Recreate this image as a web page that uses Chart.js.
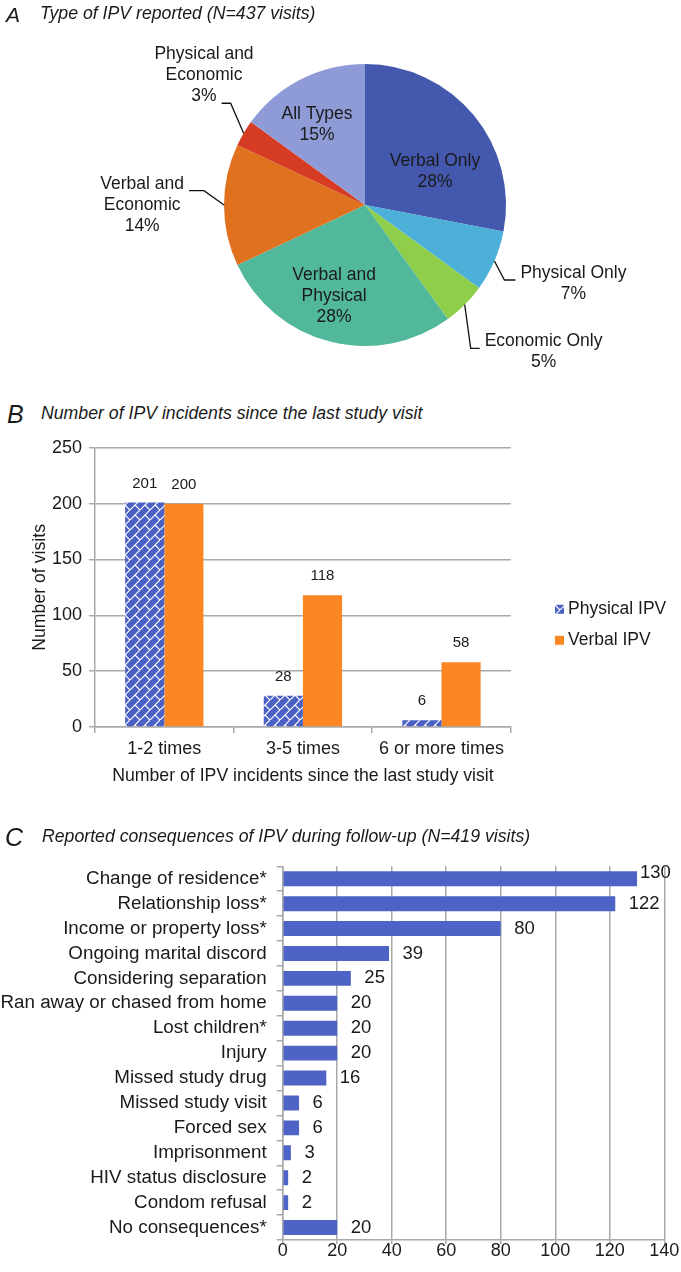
<!DOCTYPE html>
<html><head><meta charset="utf-8">
<script src="https://cdn.jsdelivr.net/npm/chart.js@4.4.0/dist/chart.umd.min.js"></script>
<style>
html,body{margin:0;padding:0;background:#fff;}
#fig{position:relative;width:681px;height:1272px;overflow:hidden;background:#fff;font-family:"Liberation Sans",Arial,Helvetica,sans-serif;color:#1a1a1a;}
.cv{position:absolute;left:0;width:681px;}
.lt{position:absolute;font-style:italic;line-height:1;white-space:nowrap;z-index:2;}
</style></head><body>
<div id="fig">
  <div class="cv" style="top:0;height:380px"><canvas id="cA"></canvas></div>
  <div class="cv" style="top:430px;height:360px"><canvas id="cB"></canvas></div>
  <div class="cv" style="top:845px;height:427px"><canvas id="cC"></canvas></div>

  <div class="lt" style="left:6px;top:4px;font-size:21px">A</div>
  <div class="lt" style="left:40px;top:5px;font-size:17.7px">Type of IPV reported (N=437 visits)</div>
  <div class="lt" style="left:7px;top:402px;font-size:25px">B</div>
  <div class="lt" style="left:41px;top:405px;font-size:17.7px">Number of IPV incidents since the last study visit</div>
  <div class="lt" style="left:5px;top:825px;font-size:25px">C</div>
  <div class="lt" style="left:42px;top:828px;font-size:17.7px">Reported consequences of IPV during follow-up (N=419 visits)</div>
</div>
<script>
// ---------- DATA ----------
const pieCategories = [['Verbal Only'], ['Physical Only'], ['Economic Only'], ['Verbal and', 'Physical'], ['Verbal and', 'Economic'], ['Physical and', 'Economic'], ['All Types']];
const piePercents = [28, 7, 5, 28, 14, 3, 15];

const incidentCategories = ['1-2 times', '3-5 times', '6 or more times'];
const physicalIPV = [201, 28, 6];
const verbalIPV = [200, 118, 58];
const incidentTicks = [0, 50, 100, 150, 200, 250];

const consequenceCategories = ['Change of residence*', 'Relationship loss*', 'Income or property loss*', 'Ongoing marital discord', 'Considering separation', 'Ran away or chased from home', 'Lost children*', 'Injury', 'Missed study drug', 'Missed study visit', 'Forced sex', 'Imprisonment', 'HIV status disclosure', 'Condom refusal', 'No consequences*'];
const consequenceCounts = [130, 122, 80, 39, 25, 20, 20, 20, 16, 6, 6, 3, 2, 2, 20];
const consequenceTicks = [0, 20, 40, 60, 80, 100, 120, 140];

// ---------- STYLE ----------
const FAMILY = '"Liberation Sans", Arial, Helvetica, sans-serif';
const TXT = '#1a1a1a';
const GRAY = '#a9a9a9';
Chart.defaults.font.family = FAMILY;
Chart.defaults.color = TXT;

const pieColors = ['#4459ae', '#4cb0d8', '#8fce4a', '#52b89c', '#e0711f', '#d63c24', '#8f9bd6'];

function makeHatch() {
  const c = document.createElement('canvas');
  c.width = 10; c.height = 10;
  const g = c.getContext('2d');
  g.fillStyle = '#4a60c5'; g.fillRect(0, 0, 10, 10);
  g.strokeStyle = '#ffffff'; g.lineWidth = 1.2;
  g.beginPath();
  g.moveTo(-1, 11); g.lineTo(11, -1);
  g.moveTo(5, 5); g.lineTo(10, 10);
  g.stroke();
  return g.createPattern(c, 'repeat');
}
const hatch = makeHatch();

// ---------- PLUGINS ----------
const pieLabelPlugin = {
  id: 'pieLabels',
  afterDatasetsDraw(chart, args, opts) {
    const ctx = chart.ctx;
    const meta = chart.getDatasetMeta(0);
    ctx.save();
    ctx.font = opts.font;
    ctx.fillStyle = opts.color;
    ctx.textBaseline = 'middle';
    ctx.textAlign = 'center';
    ctx.strokeStyle = opts.lineColor;
    ctx.lineWidth = opts.lineWidth;
    meta.data.forEach((arc, i) => {
      const p = arc.getProps(['x', 'y', 'startAngle', 'endAngle', 'outerRadius'], true);
      const mid = (p.startAngle + p.endAngle) / 2;
      const lines = [...chart.data.labels[i], chart.data.datasets[0].data[i] + '%'];
      const c = opts.placement[i];
      const lh = opts.lineHeight;
      if (c.type === 'inside') {
        const a = mid + c.shift * Math.PI / 180;
        const cx = p.x + Math.cos(a) * c.r * p.outerRadius;
        const cy = p.y + Math.sin(a) * c.r * p.outerRadius;
        lines.forEach((t, k) => ctx.fillText(t, cx, cy + (k - (lines.length - 1) / 2) * lh));
      } else {
        const ex = p.x + Math.cos(mid) * p.outerRadius;
        const ey = p.y + Math.sin(mid) * p.outerRadius;
        const bx = ex + c.dx, by = ey + c.dy, hx = bx + c.h;
        ctx.beginPath();
        ctx.moveTo(ex, ey); ctx.lineTo(bx, by); ctx.lineTo(hx, by);
        ctx.stroke();
        const s = Math.sign(c.h);
        const aw = ctx.measureText(lines[c.anchor]).width;
        const cx = hx + s * (opts.gap + aw / 2);
        const ay = by + opts.rise;
        lines.forEach((t, k) => ctx.fillText(t, cx, ay + (k - c.anchor) * lh));
      }
    });
    ctx.restore();
  }
};

const barValuePlugin = {
  id: 'barValues',
  afterDatasetsDraw(chart, args, opts) {
    const ctx = chart.ctx;
    ctx.save();
    ctx.font = opts.font;
    ctx.fillStyle = opts.color;
    ctx.textBaseline = 'middle';
    chart.data.datasets.forEach((ds, di) => {
      chart.getDatasetMeta(di).data.forEach((el, i) => {
        const t = String(ds.data[i]);
        if (opts.horizontal) {
          let x = el.x + opts.gap, y = el.y;
          const w = ctx.measureText(t).width;
          if (x + w > chart.width - 1) { x = el.x + opts.tightGap; y -= opts.raise; }
          ctx.textAlign = 'left';
          ctx.fillText(t, x, y);
        } else {
          ctx.textAlign = 'center';
          ctx.fillText(t, el.x, el.y - opts.offset);
        }
      });
    });
    ctx.restore();
  }
};

const sideLegendPlugin = {
  id: 'sideLegend',
  afterDraw(chart, args, opts) {
    const {ctx, chartArea} = chart;
    ctx.save();
    ctx.font = opts.font;
    ctx.textBaseline = 'middle';
    ctx.textAlign = 'left';
    chart.data.datasets.forEach((ds, i) => {
      const y = chartArea.top + opts.top + i * opts.spacing;
      const x = chartArea.right + opts.left;
      ctx.fillStyle = ds.backgroundColor;
      ctx.fillRect(x, y - opts.box / 2, opts.box, opts.box);
      ctx.fillStyle = opts.color;
      ctx.fillText(ds.label, x + opts.box + opts.textGap, y);
    });
    ctx.restore();
  }
};

// ---------- CHART A: PIE ----------
new Chart(document.getElementById('cA'), {
  type: 'pie',
  data: {
    labels: pieCategories,
    datasets: [{ data: piePercents, backgroundColor: pieColors, borderWidth: 0, hoverOffset: 0, offset: 0 }]
  },
  options: {
    responsive: true, maintainAspectRatio: false, animation: false, events: [],
    layout: { padding: { left: 224, right: 175, top: 64, bottom: 34 } },
    plugins: {
      legend: { display: false }, tooltip: { enabled: false },
      pieLabels: {
        font: '17.5px ' + FAMILY, color: TXT, lineColor: '#111', lineWidth: 1.3,
        lineHeight: 21, gap: 5, rise: -7,
        placement: [
          { type: 'inside', r: 0.55, shift: 14 },
          { type: 'outside', dx: 10, dy: 19, h: 11, anchor: 0 },
          { type: 'outside', dx: 6, dy: 43.6, h: 9, anchor: 0 },
          { type: 'inside', r: 0.68, shift: 4.4 },
          { type: 'outside', dx: -20, dy: -14.3, h: -15, anchor: 0 },
          { type: 'outside', dx: -13, dy: -30, h: -9, anchor: 2 },
          { type: 'inside', r: 0.664, shift: -3.8 }
        ]
      }
    }
  },
  plugins: [pieLabelPlugin]
});

// ---------- CHART B: GROUPED BARS ----------
new Chart(document.getElementById('cB'), {
  type: 'bar',
  data: {
    labels: incidentCategories,
    datasets: [
      { label: 'Physical IPV', data: physicalIPV, backgroundColor: hatch, borderWidth: 0, categoryPercentage: 0.565, barPercentage: 1 },
      { label: 'Verbal IPV', data: verbalIPV, backgroundColor: '#fc8624', borderWidth: 0, categoryPercentage: 0.565, barPercentage: 1 }
    ]
  },
  options: {
    responsive: true, maintainAspectRatio: false, animation: false, events: [],
    layout: { padding: { left: 0, right: 170.2, top: 15.5, bottom: 0 } },
    plugins: {
      legend: { display: false }, tooltip: { enabled: false },
      barValues: { font: '15px ' + FAMILY, color: TXT, offset: 19 },
      sideLegend: { font: '17.5px ' + FAMILY, color: TXT, top: 161.5, spacing: 31, left: 44.2, box: 9, textGap: 4 }
    },
    scales: {
      x: {
        grid: { display: true, drawOnChartArea: false, drawTicks: true, tickLength: 6, color: GRAY, lineWidth: 1.5 },
        border: { display: true, color: GRAY, width: 1.5 },
        ticks: { font: { size: 18 }, color: TXT, padding: 5 },
        title: { display: true, text: 'Number of IPV incidents since the last study visit', font: { size: 17.7 }, color: TXT, padding: { top: 0, bottom: 2.8 } },
        afterFit: s => { s.height = 63; }
      },
      y: {
        min: 0, max: 250,
        afterBuildTicks: s => { s.ticks = incidentTicks.map(v => ({ value: v })); },
        grid: { color: GRAY, lineWidth: 1.5, tickLength: 6 },
        border: { display: true, color: GRAY, width: 1.5 },
        ticks: { font: { size: 18 }, color: TXT, padding: 7 },
        title: { display: true, text: 'Number of visits', font: { size: 17.7 }, color: TXT, padding: { top: 29.5, bottom: 0 } },
        afterFit: s => { s.width = 95; }
      }
    }
  },
  plugins: [barValuePlugin, sideLegendPlugin]
});

// ---------- CHART C: HORIZONTAL BARS ----------
new Chart(document.getElementById('cC'), {
  type: 'bar',
  data: {
    labels: consequenceCategories,
    datasets: [{ label: 'Visits', data: consequenceCounts, backgroundColor: '#4e63c6', borderWidth: 0, barPercentage: 0.6, categoryPercentage: 1 }]
  },
  options: {
    indexAxis: 'y',
    responsive: true, maintainAspectRatio: false, animation: false, events: [],
    layout: { padding: { left: 0, right: 16.7, top: 10, bottom: 0 } },
    plugins: {
      legend: { display: false }, tooltip: { enabled: false },
      barValues: { font: '18.5px ' + FAMILY, color: TXT, horizontal: true, gap: 13.5, tightGap: 3, raise: 6 }
    },
    scales: {
      x: {
        min: 0, max: 140,
        afterBuildTicks: s => { s.ticks = consequenceTicks.map(v => ({ value: v })); },
        grid: { color: GRAY, lineWidth: 1.5, tickLength: 4 },
        border: { display: true, color: GRAY, width: 1.5 },
        ticks: { font: { size: 18, lineHeight: 1 }, color: TXT, padding: -2 },
        afterFit: s => { s.height = 32; }
      },
      y: {
        grid: { display: true, drawOnChartArea: false, tickLength: 6, color: GRAY, lineWidth: 1.5 },
        border: { display: true, color: GRAY, width: 1.5 },
        ticks: { font: { size: 18.8 }, color: TXT, padding: 10, autoSkip: false },
        afterFit: s => { s.width = 282.7; }
      }
    }
  },
  plugins: [barValuePlugin]
});
</script>
</body></html>
